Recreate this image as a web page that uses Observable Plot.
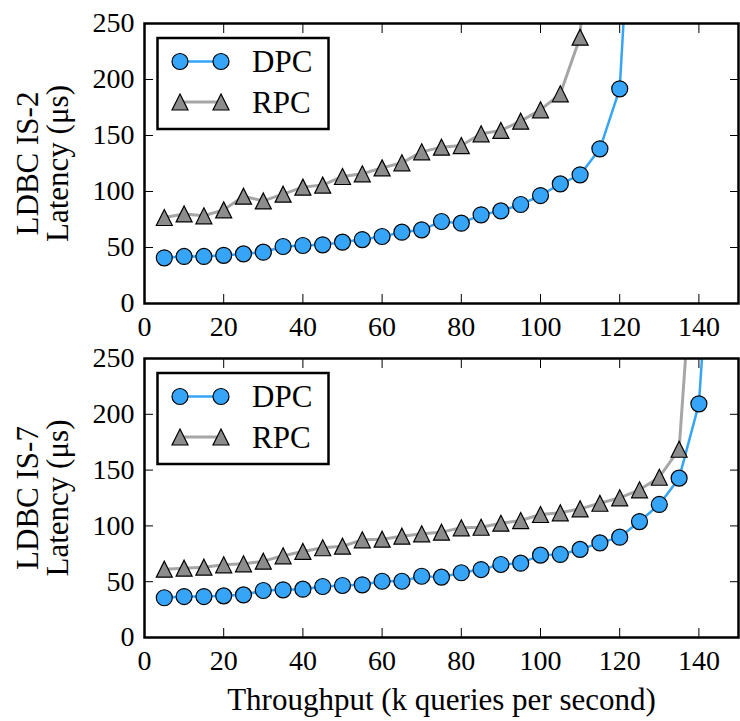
<!DOCTYPE html>
<html><head><meta charset="utf-8">
<script src="https://cdn.jsdelivr.net/npm/d3@7"></script>
<script src="https://cdn.jsdelivr.net/npm/@observablehq/plot@0.6"></script>
<style>
body{margin:0;background:#fff;}
#wrap{position:relative;width:740px;height:721px;font-family:"Liberation Serif",serif;}
.panel{position:absolute;left:0;}
svg{overflow:visible;}
</style></head><body><div id="wrap"></div>
<script>
// ---- data ----
const seriesNames = ["DPC", "RPC"];
const xTicks = [0, 20, 40, 60, 80, 100, 120, 140];
const yTicks = [0, 50, 100, 150, 200, 250];

const is2DpcX = [5,10,15,20,25,30,35,40,45,50,55,60,65,70,75,80,85,90,95,100,105,110,115,120,125];
const is2DpcY = [40.8,42,42,43,44.3,45.8,50.9,51.8,52.4,54.8,57.1,59.8,63.7,65.8,73.2,71.7,79.2,82.7,88.4,96.4,106.8,114.9,138.1,191.7,500];
const is2RpcX = [5,10,15,20,25,30,35,40,45,50,55,60,65,70,75,80,85,90,95,100,105,110,115];
const is2RpcY = [76.8,80,78.3,83.6,95.8,91.6,97.6,103.9,105.7,113.4,115.8,121.1,125.6,135.4,139.6,141,151.5,154.5,162.8,172.9,187.2,237.8,550];

const is7DpcX = [5,10,15,20,25,30,35,40,45,50,55,60,65,70,75,80,85,90,95,100,105,110,115,120,125,130,135,140,145];
const is7DpcY = [35.6,36.7,36.7,37.3,38.2,42.1,42.7,43.3,45.7,46.6,47.2,50.4,50.4,54.9,54.1,58,60.9,65.4,66.6,73.8,74.4,78.9,84.8,89.9,103.9,119.2,142.8,209.4,470];
const is7RpcX = [5,10,15,20,25,30,35,40,45,50,55,60,65,70,75,80,85,90,95,100,105,110,115,120,125,130,135,140];
const is7RpcY = [61.2,62.1,63,65.1,66,68.4,73.2,77.1,80.4,81.8,87.5,88.1,90.8,92.9,94.4,98.3,98.8,102.4,104.8,110.2,111.7,115.3,120.3,125.2,132.3,143.6,168.7,420];

const panelLabels = ["LDBC IS-2\nLatency (μs)", "LDBC IS-7\nLatency (μs)"];
const xLabel = "Throughput (k queries per second)";

// ---- styles ----
const FONT = "'Liberation Serif', serif";
const blue = "#36a4f7", blueLine = "#36a4f7";
const gray = "#8c8c8c", grayLine = "#a6a6a6";

const triangle = {
  draw(ctx, size) {
    const h = Math.sqrt(size / Math.PI);
    ctx.moveTo(0, -h); ctx.lineTo(h, h); ctx.lineTo(-h, h); ctx.closePath();
  }
};

function zip(xs, ys) { return xs.map((x, i) => ({x, y: ys[i]})); }

function panel({dpc, rpc, label, height, marginTop, marginBottom, showXLabel}) {
  const marks = [
    Plot.line(dpc, {x: "x", y: "y", stroke: blueLine, strokeWidth: 2.5, clip: true}),
    Plot.dot(dpc, {x: "x", y: "y", r: 8, symbol: "circle", fill: blue, stroke: "black", strokeWidth: 1.2, clip: true}),
    Plot.line(rpc, {x: "x", y: "y", stroke: grayLine, strokeWidth: 3, clip: true}),
    Plot.dot(rpc, {x: "x", y: "y", r: 8, symbol: triangle, fill: gray, stroke: "black", strokeWidth: 1.2, clip: true}),
    Plot.axisX({anchor: "bottom", ticks: xTicks, tickSize: -9, tickPadding: 22, label: null, fontSize: 28, fontFamily: FONT}),
    Plot.axisX({anchor: "top", ticks: xTicks, tickSize: -9, tickFormat: () => "", label: null}),
    Plot.axisY({anchor: "left", ticks: yTicks, tickSize: -9, tickPadding: 19, label: null, fontSize: 28, fontFamily: FONT}),
    Plot.axisY({anchor: "right", ticks: yTicks, tickSize: -9, tickFormat: () => "", label: null}),
    Plot.frame({stroke: "black", strokeWidth: 2.5}),
    Plot.text([label], {frameAnchor: "left", textAnchor: "middle", dx: -101, rotate: -90, lineAnchor: "middle", lineHeight: 0.98, fontSize: 31, fontFamily: FONT, text: d => d})
  ];
  if (showXLabel) marks.push(Plot.text([xLabel], {frameAnchor: "bottom", textAnchor: "middle", dy: 63, lineAnchor: "middle", fontSize: 31, fontFamily: FONT, text: d => d}));
  return Plot.plot({
    width: 740, height, marginLeft: 144, marginRight: 2, marginTop, marginBottom,
    x: {domain: [0, 150]}, y: {domain: [0, 250]},
    style: {fontFamily: FONT, fontSize: "28px", color: "black", background: "white", overflow: "visible"},
    marks
  });
}

function legend(top) {
  const svg = d3.create("svg").attr("width", 740).attr("height", 140)
    .style("position", "absolute").style("left", "0px").style("top", top + "px").style("overflow", "visible");
  svg.append("rect").attr("x", 157.5).attr("y", 15).attr("width", 171).attr("height", 91)
    .attr("fill", "white").attr("stroke", "black").attr("stroke-width", 2.5);
  const rows = [
    {name: seriesNames[0], y: 38.5, line: blueLine, fill: blue, sym: "circle", lw: 2.5},
    {name: seriesNames[1], y: 79, line: grayLine, fill: gray, sym: "tri", lw: 3}
  ];
  for (const r of rows) {
    svg.append("line").attr("x1", 180).attr("x2", 221).attr("y1", r.y).attr("y2", r.y)
      .attr("stroke", r.line).attr("stroke-width", r.lw);
    for (const cx of [180, 221]) {
      if (r.sym === "circle") svg.append("circle").attr("cx", cx).attr("cy", r.y).attr("r", 8)
        .attr("fill", r.fill).attr("stroke", "black").attr("stroke-width", 1.2);
      else svg.append("path").attr("d", `M${cx},${r.y-8}L${cx+8},${r.y+8}L${cx-8},${r.y+8}Z`)
        .attr("fill", r.fill).attr("stroke", "black").attr("stroke-width", 1.2);
    }
    svg.append("text").attr("x", 252).attr("y", r.y).attr("dy", "0.34em")
      .style("font-family", FONT).attr("font-size", 31).text(r.name);
  }
  return svg.node();
}

const wrap = document.getElementById("wrap");
const p1 = panel({dpc: zip(is2DpcX, is2DpcY), rpc: zip(is2RpcX, is2RpcY), label: panelLabels[0], height: 340, marginTop: 23, marginBottom: 37, showXLabel: false});
const p2 = panel({dpc: zip(is7DpcX, is7DpcY), rpc: zip(is7RpcX, is7RpcY), label: panelLabels[1], height: 381, marginTop: 18, marginBottom: 84, showXLabel: true});
const d1 = document.createElement("div"); d1.className = "panel"; d1.style.top = "0px"; d1.appendChild(p1);
const d2 = document.createElement("div"); d2.className = "panel"; d2.style.top = "340px"; d2.appendChild(p2);
wrap.appendChild(d1); wrap.appendChild(d2);
wrap.appendChild(legend(23));
wrap.appendChild(legend(358));
</script>
</body></html>
